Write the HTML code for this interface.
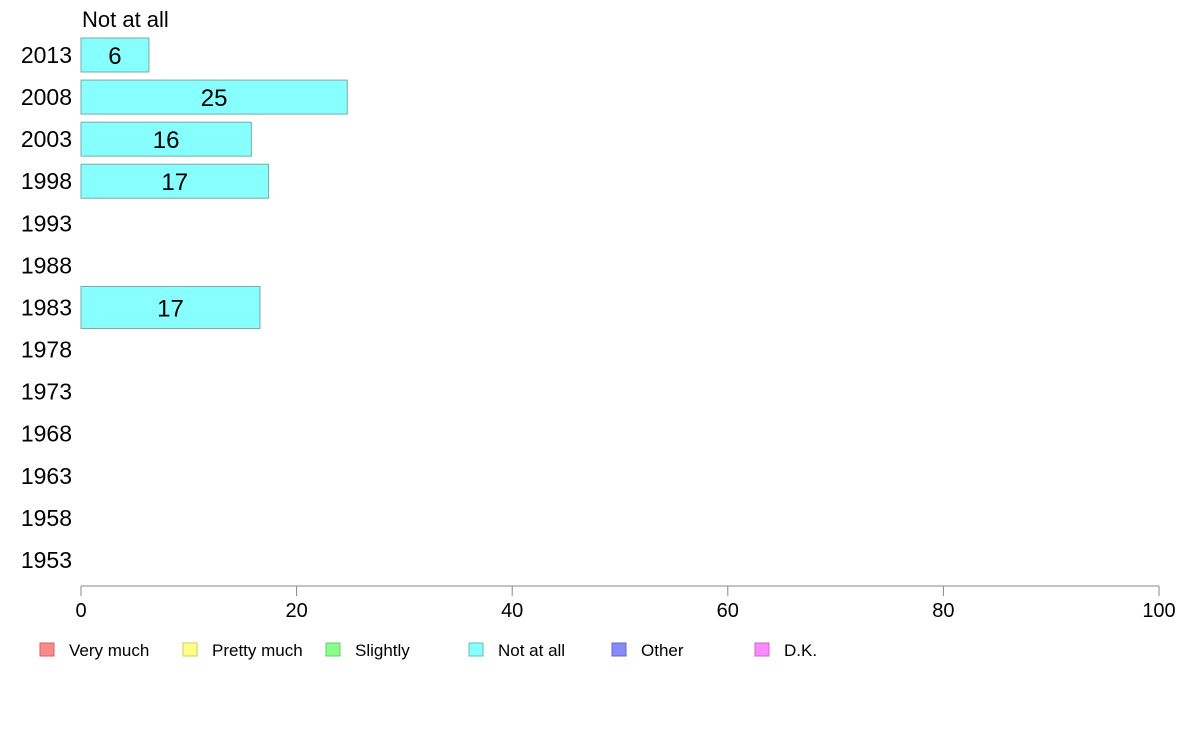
<!DOCTYPE html>
<html><head><meta charset="utf-8"><style>
body{margin:0;background:#fff;font-family:"Liberation Sans",Arial,sans-serif}
</style></head><body>
<svg width="1188" height="736" viewBox="0 0 1188 736" font-family="Liberation Sans, Arial, sans-serif">
<text x="82" y="27" font-size="22" fill="#000">Not at all</text>
<g id="bars"></g>
<g id="yaxis"></g>
<g id="xaxis"></g>
<g id="legend"></g>
</svg>
<script>
const years=["2013","2008","2003","1998","1993","1988","1983","1978","1973","1968","1963","1958","1953"];
const values=[6.3,24.7,15.8,17.4,null,null,16.6,null,null,null,null,null,null];
const labels=["6","25","16","17","","","17","","","","","",""];
const xTicks=[0,20,40,60,80,100];
const legendNames=["Very much","Pretty much","Slightly","Not at all","Other","D.K."];
const legendColors=["#ff8888","#ffff88","#88ff88","#88ffff","#8888ff","#ff88ff"];
const legendStrokes=["#cc6666","#cccc66","#66cc66","#66bbbb","#6666cc","#cc66cc"];
const NS="http://www.w3.org/2000/svg";
const x0=81,x1=1159;
function xs(v){return x0+(x1-x0)*v/100;}
function ys(i){return 55+i*42.08;}
function mk(t,a,p){const e=document.createElementNS(NS,t);for(const k in a)e.setAttribute(k,a[k]);p.appendChild(e);return e;}
const bars=document.getElementById('bars'),ya=document.getElementById('yaxis'),xa=document.getElementById('xaxis'),lg=document.getElementById('legend');
years.forEach((y,i)=>{
  const t=mk('text',{x:72,y:ys(i)+8,'font-size':23,'text-anchor':'end',fill:'#000'},ya);
  t.textContent=y;
  
  
  if(values[i]!=null){
    const h=(i===6)?42:34;
    const r=mk('rect',{x:x0,y:ys(i)-h/2,width:xs(values[i])-x0,height:h,fill:'#88ffff',stroke:'#77aaaa','stroke-width':1},bars);
    
    
    const l=mk('text',{x:(x0+xs(values[i]))/2,y:ys(i)+9,'font-size':24,'text-anchor':'middle',fill:'#000'},bars);
    l.textContent=labels[i];
    
    
  }
});
const ax=mk('line',{x1:x0,x2:x1,y1:586,y2:586,stroke:'#888','stroke-width':1},xa);


xTicks.forEach(v=>{
  const tk=mk('line',{x1:xs(v),x2:xs(v),y1:586,y2:596,stroke:'#888'},xa);
  
  
  const t=mk('text',{x:xs(v),y:617,'font-size':20,'text-anchor':'middle',fill:'#000'},xa);
  t.textContent=v;
  
  
});
legendNames.forEach((n,i)=>{
  const bx=40+i*143;
  const r=mk('rect',{x:bx,y:643,width:14,height:13,fill:legendColors[i],stroke:legendStrokes[i]},lg);
  
  
  const t=mk('text',{x:bx+29,y:656,'font-size':17,fill:'#000'},lg);
  t.textContent=n;
  
  
});
</script>
</body></html>
